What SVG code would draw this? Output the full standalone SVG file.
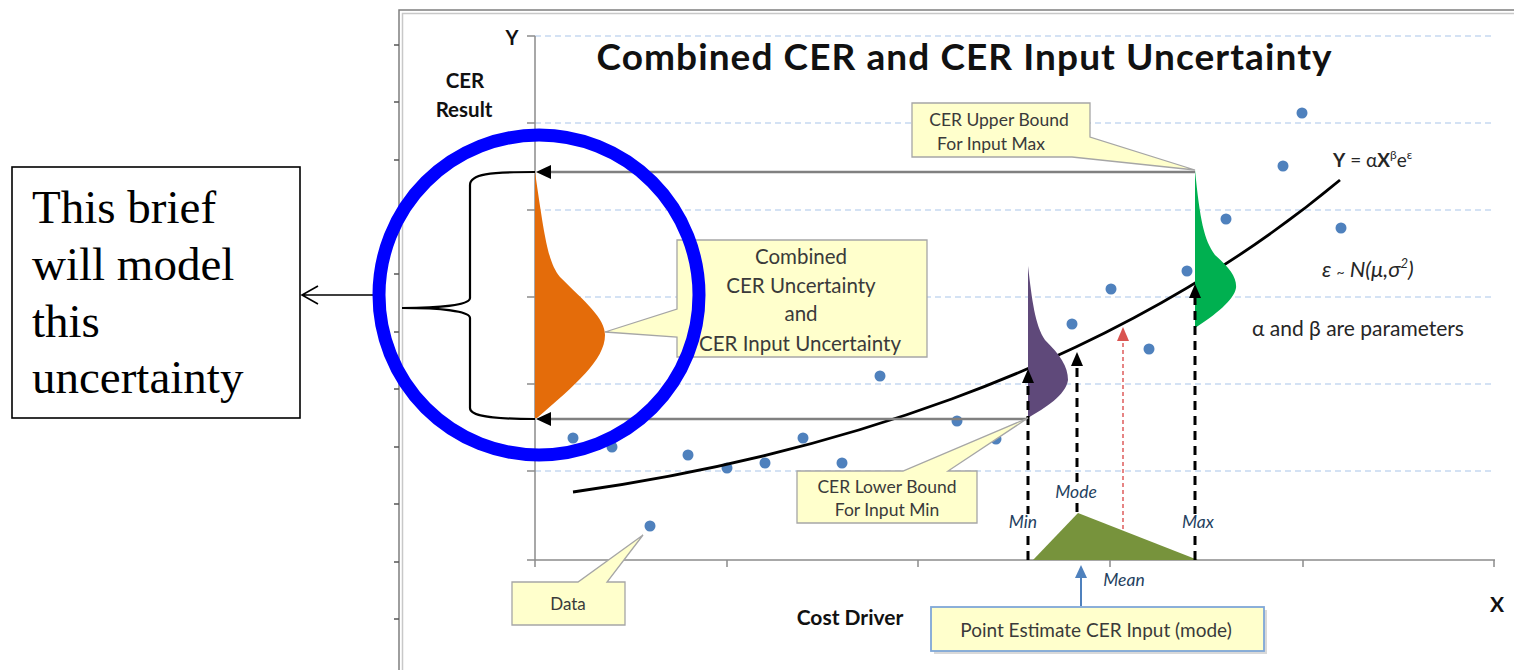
<svg xmlns="http://www.w3.org/2000/svg" width="1514" height="670" viewBox="0 0 1514 670">
<style>
.grid{stroke:#C6D9F1;stroke-width:1.3;stroke-dasharray:6,4;fill:none}
.axis{stroke:#8C8C8C;stroke-width:1.5;fill:none}
.dot{fill:#4F81BD}
.call{fill:#FFFFCC;stroke:#A6A6A6;stroke-width:1.3}
.ct{font-family:Lato,"Open Sans",sans-serif;fill:#3A3A3A;text-anchor:middle}
.lbl{font-family:Lato,"Open Sans",sans-serif;font-style:italic;fill:#243F60;font-size:17.5px;text-anchor:middle}
.b{font-family:Lato,"Open Sans",sans-serif;font-weight:bold;fill:#111}
.dash{stroke:#000;stroke-width:3;stroke-dasharray:9,6;fill:none}
.bound{stroke:#808080;stroke-width:2.5;fill:none}
</style>
<rect width="1514" height="670" fill="#fff"/>
<g id="frame">
<path d="M399,670 V10 H1514" stroke="#7F7F7F" stroke-width="1.5" fill="none"/>
<path d="M402.5,670 V13.5 H1514" stroke="#C8C8C8" stroke-width="1.5" fill="none"/>
<path d="M394,45 H399 M394,102 H399 M394,160 H399 M394,217 H399 M394,274 H399 M394,332 H399 M394,389 H399 M394,447 H399 M394,504 H399 M394,562 H399 M394,619 H399" stroke="#555" stroke-width="1.3"/>
</g>
<g id="axes">
<path class="grid" d="M535,36 H1495 M535,123 H1495 M535,210 H1495 M535,297 H1495 M535,384 H1495 M535,471 H1495"/>
<path class="axis" d="M535,36 V560 M527,560 H1495"/>
<path class="axis" d="M527,36 H535 M527,123 H535 M527,210 H535 M527,297 H535 M527,384 H535 M527,471 H535 M535,560 V567 M727,560 V567 M918,560 V567 M1110,560 V567 M1303,560 V567 M1494,560 V567"/>
</g>
<g id="data">
<circle class="dot" cx="573" cy="438" r="5.5"/>
<circle class="dot" cx="612" cy="447" r="5.5"/>
<circle class="dot" cx="650" cy="526" r="5.5"/>
<circle class="dot" cx="688" cy="455" r="5.5"/>
<circle class="dot" cx="727" cy="468" r="5.5"/>
<circle class="dot" cx="765" cy="463" r="5.5"/>
<circle class="dot" cx="803" cy="438" r="5.5"/>
<circle class="dot" cx="842" cy="463" r="5.5"/>
<circle class="dot" cx="880" cy="376" r="5.5"/>
<circle class="dot" cx="957" cy="421" r="5.5"/>
<circle class="dot" cx="996" cy="439" r="5.5"/>
<circle class="dot" cx="1072" cy="324" r="5.5"/>
<circle class="dot" cx="1111" cy="289" r="5.5"/>
<circle class="dot" cx="1149" cy="349" r="5.5"/>
<circle class="dot" cx="1187" cy="271" r="5.5"/>
<circle class="dot" cx="1226" cy="219" r="5.5"/>
<circle class="dot" cx="1283" cy="166" r="5.5"/>
<circle class="dot" cx="1302" cy="113" r="5.5"/>
<circle class="dot" cx="1341" cy="228" r="5.5"/>
</g>
<g id="curve">
<path d="M573,492 C800,460 1100,380 1340,180" stroke="#000" stroke-width="2.8" fill="none"/>
</g>
<g id="dist-orange"><path d="M535,172 C545,240 548,262 560,277 C585,302 605,318 605,335 C605,360 575,385 537,418 L535,418 Z" fill="#E46C0A"/></g>
<g id="dist-purple"><path d="M1028,266 C1032,300 1035,325 1045,340 C1060,355 1068,366 1068,380 C1066,395 1045,408 1028,418 Z" fill="#5F497A"/></g>
<g id="dist-green"><path d="M1195,170 C1200,220 1204,240 1215,255 C1230,268 1237,278 1236,288 C1234,300 1215,315 1195,328 Z" fill="#00B050"/></g>
<g id="input-triangle"><path d="M1033,560 L1078,513 L1198,560 Z" fill="#77933C"/></g>
<g id="connectors">
<path class="bound" d="M549,172 H1195"/>
<path d="M536,172 L551,165 L551,179 Z" fill="#000"/>
<path class="bound" d="M549,419 H1028"/>
<path d="M536,419 L551,412 L551,426 Z" fill="#000"/>
<path class="dash" d="M1028,560 V382"/>
<path d="M1028,369 L1022,383 L1034,383 Z" fill="#000"/>
<path class="dash" d="M1077,512 V365"/>
<path d="M1077,352 L1071,366 L1083,366 Z" fill="#000"/>
<path class="dash" d="M1195,560 V298"/>
<path d="M1195,284 L1189,298 L1201,298 Z" fill="#000"/>
<path d="M1123,529 V340" stroke="#E06666" stroke-width="1.6" stroke-dasharray="4,3" fill="none"/>
<path d="M1123,327 L1117,341 L1129,341 Z" fill="#D9534F"/>
<path d="M1081,606 V576" stroke="#4F81BD" stroke-width="2" fill="none"/>
<path d="M1081,565 L1075,578 L1087,578 Z" fill="#4F81BD"/>
<path d="M535,172 C490,172 470,174 470,185 V298 C470,305 440,308 402,308 C440,308 470,311 470,318 V408 C470,416 490,419 535,419" stroke="#000" stroke-width="2.2" fill="none"/>
<path d="M378,295 H302 M318,286 L302,295 L318,304" stroke="#000" stroke-width="1.6" fill="none"/>
</g>
<g id="callout-upper">
<path class="call" d="M912,103 H1090 V137 L1195,170 L1072,157 H912 Z"/>
<text class="ct" font-size="17.5" x="999" y="126">CER Upper Bound</text>
<text class="ct" font-size="17.5" x="991" y="150">For Input Max</text>
</g>
<g id="callout-combined">
<path class="call" d="M677,240 H927 V357 H677 V337 L605,332 L677,309 Z"/>
<text class="ct" font-size="20.5" x="801" y="264">Combined</text>
<text class="ct" font-size="20.5" x="801" y="293">CER Uncertainty</text>
<text class="ct" font-size="20.5" x="801" y="321">and</text>
<text class="ct" font-size="20.5" x="800" y="351">CER Input  Uncertainty</text>
</g>
<g id="callout-lower">
<path class="call" d="M797,471 H903 L1028,418 L948,471 H977 V523 H797 Z"/>
<text class="ct" font-size="17.5" x="887" y="493">CER Lower Bound</text>
<text class="ct" font-size="17.5" x="887" y="516">For Input Min</text>
</g>
<g id="callout-data">
<path class="call" d="M512,582 H578 L643,535 L607,582 H625 V625 H512 Z"/>
<text class="ct" font-size="17" x="568" y="610">Data</text>
</g>
<g id="callout-point">
<rect x="934" y="610" width="333" height="44" fill="#BFBFBF" opacity="0.6"/>
<rect x="931" y="607" width="333" height="44" fill="#FFFFCC" stroke="#7FA7D8" stroke-width="1.8"/>
<text class="ct" font-size="19" x="1096" y="637">Point  Estimate CER Input (mode)</text>
</g>
<g id="highlight">
<circle cx="539" cy="295" r="160" fill="none" stroke="#0000FF" stroke-width="13"/>
</g>
<g id="note">
<rect x="12" y="167" width="288" height="251" fill="#fff" stroke="#000" stroke-width="1.6"/>
<text font-family="'Liberation Serif','Times New Roman',serif" font-size="47" fill="#000">
<tspan x="32" y="223">This brief</tspan>
<tspan x="32" y="280">will model</tspan>
<tspan x="32" y="337">this</tspan>
<tspan x="32" y="393">uncertainty</tspan>
</text>
</g>
<g id="labels">
<text class="b" font-size="37" x="964" y="70" text-anchor="middle" textLength="735">Combined CER and CER Input Uncertainty</text>
<text class="b" font-size="20" x="512" y="45" text-anchor="middle">Y</text>
<text class="b" font-size="20.5" x="465" y="88" text-anchor="middle">CER</text>
<text class="b" font-size="20.5" x="464" y="117" text-anchor="middle">Result</text>
<text class="b" font-size="21" x="850" y="625" text-anchor="middle">Cost Driver</text>
<text class="b" font-size="21" x="1497" y="612" text-anchor="middle">X</text>
<rect x="1008" y="514" width="32" height="18" fill="#fff"/>
<rect x="1055" y="484" width="44" height="18" fill="#fff"/>
<rect x="1181" y="514" width="34" height="18" fill="#fff"/>
<text class="lbl" x="1023" y="528">Min</text>
<text class="lbl" x="1076" y="498">Mode</text>
<text class="lbl" x="1198" y="528">Max</text>
<text class="lbl" x="1124" y="586">Mean</text>
<text font-family="Lato,'Open Sans',sans-serif" font-size="19" fill="#262626" x="1333" y="167"><tspan font-weight="bold">Y</tspan> = α<tspan font-weight="bold">X</tspan><tspan font-size="12" dy="-8">β</tspan><tspan dy="8">e</tspan><tspan font-size="12" dy="-8">ε</tspan></text>
<text font-family="Lato,'Open Sans',sans-serif" font-size="22" font-style="italic" fill="#262626" x="1322" y="277">ε <tspan font-size="14">~</tspan> N(μ,σ<tspan font-size="13" dy="-9">2</tspan><tspan dy="9">)</tspan></text>
<text font-family="Lato,'Open Sans',sans-serif" font-size="21" fill="#262626" x="1252" y="336">α and β are parameters</text>
</g>
</svg>
